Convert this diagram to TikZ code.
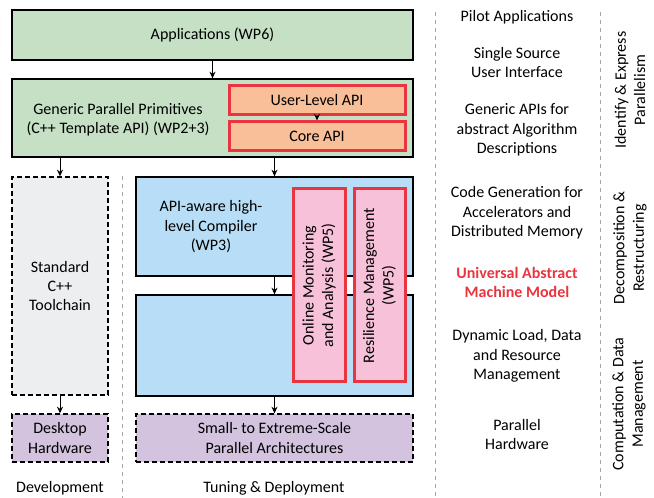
\documentclass[tikz,border=0pt]{standalone}
\usepackage{fontspec}
\setmainfont{Carlito}
\usetikzlibrary{arrows.meta}
\definecolor{AppGreen}{RGB}{197,224,196}
\definecolor{ApiOrange}{RGB}{248,191,152}
\definecolor{BoxRed}{RGB}{232,53,63}
\definecolor{CompBlue}{RGB}{183,222,246}
\definecolor{ToolGray}{RGB}{237,238,240}
\definecolor{HwPurple}{RGB}{212,195,223}
\definecolor{WpPink}{RGB}{247,193,218}

\begin{document}
\begin{tikzpicture}
  [x=0.75pt,y=-0.75pt,font=\fontsize{12}{14.6}\selectfont,
   every node/.style={align=center,inner sep=0pt},
   wpbox/.style={draw,line width=1pt,minimum width=300.75pt},
   apibox/.style={draw=BoxRed,line width=2.25pt,fill=ApiOrange,minimum width=132pt,minimum height=21.75pt},
   devbox/.style={draw,line width=1pt,dash pattern=on 3.5pt off 2.5pt,minimum width=72pt},
   tunebox/.style={draw,line width=1pt,minimum width=207.75pt},
   wp5box/.style={draw=BoxRed,line width=2.25pt,fill=WpPink,rotate=90,minimum width=144.75pt},
   sepline/.style={-,gray!70,line width=0.6pt,dash pattern=on 3pt off 3pt},
   line width=0.75pt,->,>={Stealth[length=5pt,width=4.5pt]}]
  \useasboundingbox (0,0) rectangle (654,498);

  % left part: the tool flow
  \node (app) [wpbox,fill=AppGreen,minimum height=37.5pt] at (212.5,35) {Applications (WP6)};
  \node (gpp) [wpbox,fill=AppGreen,minimum height=58.5pt] at (212.5,118) {};
  \node (gpptext) at (118,120) {Generic Parallel Primitives\\(C++ Template API) (WP2+3)};
  \node (ulapi) [apibox] at (317,100.5) {User-Level API};
  \node (core) [apibox] at (317,136.5) {Core API};

  \node (std) [devbox,fill=ToolGray,minimum height=163.5pt] at (60,286) {Standard\\C++\\Toolchain};
  \node (desk) [devbox,fill=HwPurple,minimum height=36pt] at (60,438) {Desktop\\Hardware};

  \node (comp) [tunebox,fill=CompBlue,minimum height=74.25pt] at (274.5,226.5) {};
  \node (comptext) at (211,227) {API-aware high-\\level Compiler\\(WP3)};
  \node (rt) [tunebox,fill=CompBlue,minimum height=75.75pt] at (274.5,345.5) {};
  \node (arch) [tunebox,dash pattern=on 3.5pt off 2.5pt,fill=HwPurple,minimum height=36pt] at (274.5,438) {Small- to Extreme-Scale\\Parallel Architectures};

  \node (mon) [wp5box,minimum height=39pt] at (319,285.5) {Online Monitoring\\and Analysis (WP5)};
  \node (res) [wp5box,minimum height=38.25pt] at (379.5,285.5) {Resilience Management\\(WP5)};

  \node (dev) at (60,488) {Development};
  \node (tune) at (274,488) {Tuning \& Deployment};

  \draw (app) -- (gpp);
  \draw (ulapi) -- (core);
  \draw (gpp.south -| std) -- (std);
  \draw (gpp.south -| comp) -- (comp);
  \draw (comp) -- (rt);
  \draw (rt) -- (arch);
  \draw (std) -- (desk);

  % separators
  \draw[sepline] (122,176) -- (122,498);
  \draw[sepline] (435,12) -- (435,498);
  \draw[sepline] (600,12) -- (600,498);

  % right part: the levels
  \node (pilot) at (517,17) {Pilot Applications};
  \node (single) at (517,62.5) {Single Source\\User Interface};
  \node (generic) at (517,130) {Generic APIs for\\abstract Algorithm\\Descriptions};
  \node (codegen) at (517,213) {Code Generation for\\Accelerators and\\Distributed Memory};
  \node (uamm) [text=BoxRed,font=\fontsize{12}{14.6}\selectfont\bfseries] at (517,282.5) {Universal Abstract\\Machine Model};
  \node (dynamic) at (517,356) {Dynamic Load, Data\\and Resource\\Management};
  \node (parhw) at (517,434.5) {Parallel\\Hardware};

  \node (idexp) [rotate=90] at (630,90) {Identify \& Express\\Parallelism};
  \node (decomp) [rotate=90] at (630,248) {Decomposition \&\\Restructuring};
  \node (cdm) [rotate=90] at (629,404) {Computation \& Data\\Management};
\end{tikzpicture}
\end{document}
